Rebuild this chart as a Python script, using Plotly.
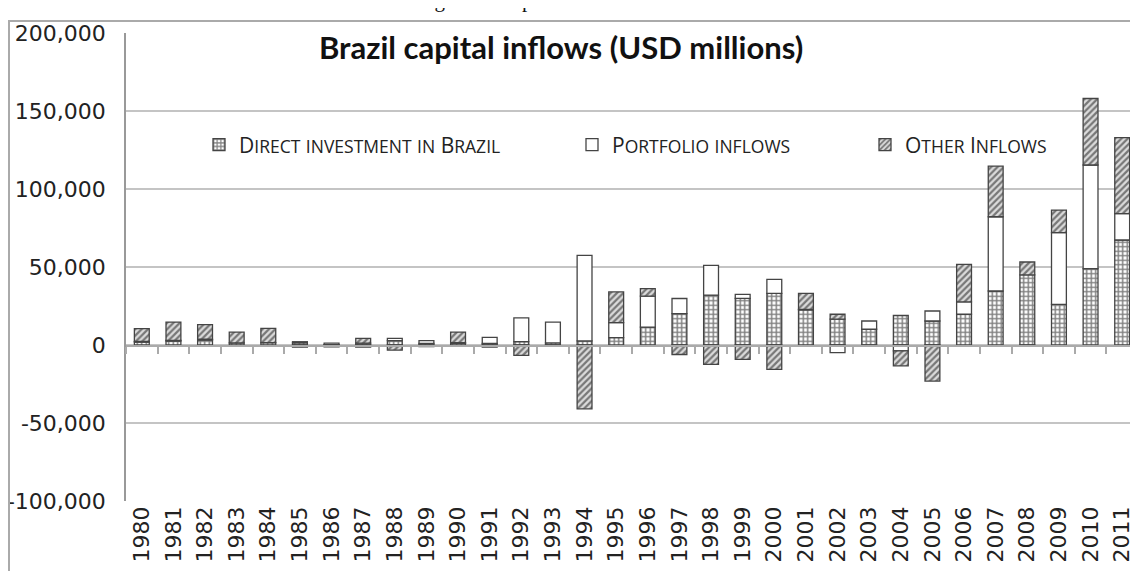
import plotly.graph_objects as go

years = [str(y) for y in range(1980, 2012)]

direct = [1900, 2500, 3100, 1300, 1500, 1400, 300, 1200, 2800, 1100,
          1000, 1100, 2100, 1300, 2600, 4700, 11500, 20100, 32000, 29900,
          33100, 22500, 16600, 10100, 18900, 15400, 19700, 34600, 44900,
          26100, 48900, 67300]
portfolio = [400, 500, 600, 0, 0, 700, 900, -1300, 1500, 1700,
             500, 3800, 15300, 13400, 54900, 9600, 19800, 9700, 19000, 2600,
             9000, 400, -4900, 5300, -3800, 6400, 7900, 47600, -700,
             45900, 66500, 16900]
other = [8200, 11700, 9400, 7000, 9200, -1400, -1200, 3100, -3300, -1100,
         6800, -1300, -6600, -900, -40900, 19700, 4900, -6100, -12400, -9200,
         -15600, 10200, 3100, -800, -9600, -23100, 24100, 32500, 8300,
         14500, 42600, 48700]

y_ticks = [-100000, -50000, 0, 50000, 100000, 150000, 200000]
y_tick_labels = ["-100,000", "-50,000", "0", "50,000", "100,000",
                 "150,000", "200,000"]


def small_caps(text, small=17.5):
    # fake small caps: capitals stay big, lower case becomes small capitals
    out = []
    for ch in text:
        if ch.islower():
            out.append(f"<span style='font-size:{small}px'>{ch.upper()}</span>")
        else:
            out.append(ch)
    return "".join(out)


series_names = [small_caps("Direct investment in Brazil"),
                small_caps("Portfolio inflows"),
                small_caps("Other Inflows")]

# page has an 8px body margin, positions below are read in page pixels
OFF = 8
W, H = 1130, 563
L, R, T, B = 118, 0, 25, 70
pw, ph = W - L - R, H - T - B


def px_x(p):
    return (p - OFF - L) / pw


def px_y(p):
    return (H - B - (p - OFF)) / ph


outline = dict(color="#444", width=1.3)
legend_font = dict(family="Open Sans", size=21, color="#222")
tick_font = dict(family="DejaVu Sans", size=22, color="#222")
legend_y = px_y(145)

fig = go.Figure()
fig.add_trace(go.Bar(
    x=years, y=direct, name=series_names[0], legend="legend",
    marker=dict(color="white", line=outline,
                pattern=dict(shape="+", fgcolor="#000", bgcolor="white",
                             size=4.5, solidity=0.55)),
))
fig.add_trace(go.Bar(
    x=years, y=portfolio, name=series_names[1], legend="legend2",
    marker=dict(color="white", line=outline),
))
fig.add_trace(go.Bar(
    x=years, y=other, name=series_names[2], legend="legend3",
    marker=dict(color="#d0d0d0", line=outline,
                pattern=dict(shape="/", fgcolor="#111", bgcolor="#dcdcdc",
                             size=4.5, solidity=0.5)),
))
# invisible trace to carry the zero-line axis with its boundary ticks
fig.add_trace(go.Scatter(x=years, y=[None] * len(years), xaxis="x2",
                         showlegend=False, hoverinfo="skip"))

fig.update_layout(
    width=W, height=H,
    margin=dict(l=L, r=R, t=T, b=B),
    paper_bgcolor="white", plot_bgcolor="white",
    barmode="relative", bargap=0.53,
    xaxis=dict(type="category", tickangle=-90, showline=False, ticks="",
               showgrid=False, tickfont=tick_font),
    xaxis2=dict(type="category", overlaying="x", anchor="free",
                position=px_y(345.5), matches="x", showline=True,
                linecolor="#aaa", linewidth=2, ticks="outside",
                tickson="boundaries", ticklen=7, tickcolor="#aaa",
                tickwidth=2, showticklabels=False, showgrid=False),
    yaxis=dict(range=[-100000, 200000], tickvals=y_ticks,
               ticktext=y_tick_labels, ticklabelstandoff=14,
               showgrid=True, gridcolor="#c4c4c4", gridwidth=2,
               zeroline=False, showline=True, linecolor="#999",
               linewidth=1.5, tickfont=tick_font),
    legend=dict(x=px_x(199), y=legend_y, yanchor="middle",
                orientation="h", font=legend_font, bgcolor="rgba(0,0,0,0)"),
    legend2=dict(x=px_x(572), y=legend_y, yanchor="middle",
                 orientation="h", font=legend_font, bgcolor="rgba(0,0,0,0)"),
    legend3=dict(x=px_x(865), y=legend_y, yanchor="middle",
                 orientation="h", font=legend_font, bgcolor="rgba(0,0,0,0)"),
    annotations=[
        dict(text="<b>Brazil capital inflows (USD millions)</b>",
             xref="paper", yref="paper", x=px_x(561), y=px_y(47),
             yanchor="middle", showarrow=False,
             font=dict(family="Lato", size=31, color="#111")),
        dict(text="Figure 1: Capital Inflows to Brazil",
             xref="paper", yref="paper", x=px_x(562), y=px_y(14),
             yanchor="bottom", showarrow=False,
             font=dict(family="Liberation Serif", size=21, color="#111")),
    ],
    shapes=[dict(type="rect", xref="paper", yref="paper",
                 x0=px_x(9), x1=1.05, y0=-0.3, y1=px_y(21),
                 line=dict(color="#aaa", width=2))],
)

fig.write_html("out.html")
